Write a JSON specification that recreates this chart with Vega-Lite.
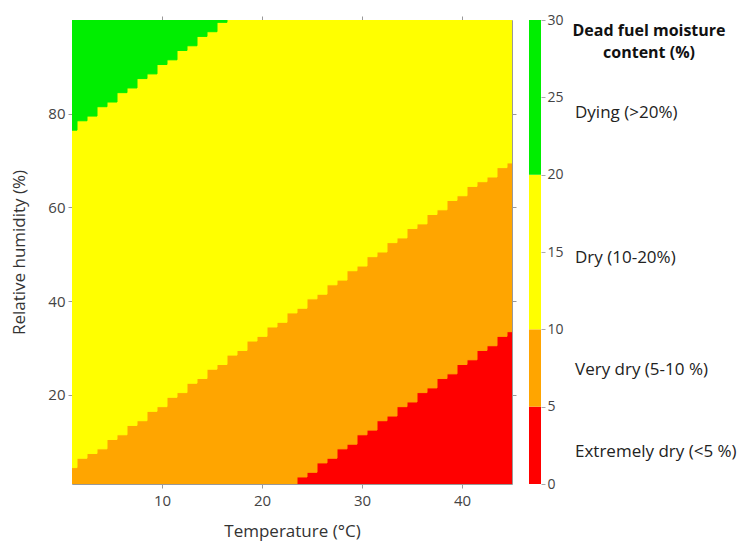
{
  "$schema": "https://vega.github.io/schema/vega-lite/v6.json",
  "padding": {"left": 10, "top": 13, "right": 2, "bottom": 2},
  "bounds": "flush",
  "spacing": 17,
  "datasets": {
    "cells": [
      {"t0":23.5,"t1":24.5,"lo":1,"hi":2.5,"c":"Extremely dry"},
      {"t0":24.5,"t1":25.5,"lo":1,"hi":3.5,"c":"Extremely dry"},
      {"t0":25.5,"t1":26.5,"lo":1,"hi":5.5,"c":"Extremely dry"},
      {"t0":26.5,"t1":27.5,"lo":1,"hi":6.5,"c":"Extremely dry"},
      {"t0":27.5,"t1":28.5,"lo":1,"hi":8.5,"c":"Extremely dry"},
      {"t0":28.5,"t1":29.5,"lo":1,"hi":9.5,"c":"Extremely dry"},
      {"t0":29.5,"t1":30.5,"lo":1,"hi":11.5,"c":"Extremely dry"},
      {"t0":30.5,"t1":31.5,"lo":1,"hi":12.5,"c":"Extremely dry"},
      {"t0":31.5,"t1":32.5,"lo":1,"hi":14.5,"c":"Extremely dry"},
      {"t0":32.5,"t1":33.5,"lo":1,"hi":15.5,"c":"Extremely dry"},
      {"t0":33.5,"t1":34.5,"lo":1,"hi":17.5,"c":"Extremely dry"},
      {"t0":34.5,"t1":35.5,"lo":1,"hi":18.5,"c":"Extremely dry"},
      {"t0":35.5,"t1":36.5,"lo":1,"hi":20.5,"c":"Extremely dry"},
      {"t0":36.5,"t1":37.5,"lo":1,"hi":21.5,"c":"Extremely dry"},
      {"t0":37.5,"t1":38.5,"lo":1,"hi":23.5,"c":"Extremely dry"},
      {"t0":38.5,"t1":39.5,"lo":1,"hi":24.5,"c":"Extremely dry"},
      {"t0":39.5,"t1":40.5,"lo":1,"hi":26.5,"c":"Extremely dry"},
      {"t0":40.5,"t1":41.5,"lo":1,"hi":27.5,"c":"Extremely dry"},
      {"t0":41.5,"t1":42.5,"lo":1,"hi":29.5,"c":"Extremely dry"},
      {"t0":42.5,"t1":43.5,"lo":1,"hi":30.5,"c":"Extremely dry"},
      {"t0":43.5,"t1":44.5,"lo":1,"hi":32.5,"c":"Extremely dry"},
      {"t0":44.5,"t1":45.5,"lo":1,"hi":33.5,"c":"Extremely dry"},

      {"t0":0.5,"t1":1.5,"lo":1,"hi":4.5,"c":"Very dry"},
      {"t0":1.5,"t1":2.5,"lo":1,"hi":6.5,"c":"Very dry"},
      {"t0":2.5,"t1":3.5,"lo":1,"hi":7.5,"c":"Very dry"},
      {"t0":3.5,"t1":4.5,"lo":1,"hi":8.5,"c":"Very dry"},
      {"t0":4.5,"t1":5.5,"lo":1,"hi":10.5,"c":"Very dry"},
      {"t0":5.5,"t1":6.5,"lo":1,"hi":11.5,"c":"Very dry"},
      {"t0":6.5,"t1":7.5,"lo":1,"hi":13.5,"c":"Very dry"},
      {"t0":7.5,"t1":8.5,"lo":1,"hi":14.5,"c":"Very dry"},
      {"t0":8.5,"t1":9.5,"lo":1,"hi":16.5,"c":"Very dry"},
      {"t0":9.5,"t1":10.5,"lo":1,"hi":17.5,"c":"Very dry"},
      {"t0":10.5,"t1":11.5,"lo":1,"hi":19.5,"c":"Very dry"},
      {"t0":11.5,"t1":12.5,"lo":1,"hi":20.5,"c":"Very dry"},
      {"t0":12.5,"t1":13.5,"lo":1,"hi":22.5,"c":"Very dry"},
      {"t0":13.5,"t1":14.5,"lo":1,"hi":23.5,"c":"Very dry"},
      {"t0":14.5,"t1":15.5,"lo":1,"hi":25.5,"c":"Very dry"},
      {"t0":15.5,"t1":16.5,"lo":1,"hi":26.5,"c":"Very dry"},
      {"t0":16.5,"t1":17.5,"lo":1,"hi":28.5,"c":"Very dry"},
      {"t0":17.5,"t1":18.5,"lo":1,"hi":29.5,"c":"Very dry"},
      {"t0":18.5,"t1":19.5,"lo":1,"hi":31.5,"c":"Very dry"},
      {"t0":19.5,"t1":20.5,"lo":1,"hi":32.5,"c":"Very dry"},
      {"t0":20.5,"t1":21.5,"lo":1,"hi":34.5,"c":"Very dry"},
      {"t0":21.5,"t1":22.5,"lo":1,"hi":35.5,"c":"Very dry"},
      {"t0":22.5,"t1":23.5,"lo":1,"hi":37.5,"c":"Very dry"},
      {"t0":23.5,"t1":24.5,"lo":2.5,"hi":38.5,"c":"Very dry"},
      {"t0":24.5,"t1":25.5,"lo":3.5,"hi":40.5,"c":"Very dry"},
      {"t0":25.5,"t1":26.5,"lo":5.5,"hi":41.5,"c":"Very dry"},
      {"t0":26.5,"t1":27.5,"lo":6.5,"hi":43.5,"c":"Very dry"},
      {"t0":27.5,"t1":28.5,"lo":8.5,"hi":44.5,"c":"Very dry"},
      {"t0":28.5,"t1":29.5,"lo":9.5,"hi":46.5,"c":"Very dry"},
      {"t0":29.5,"t1":30.5,"lo":11.5,"hi":47.5,"c":"Very dry"},
      {"t0":30.5,"t1":31.5,"lo":12.5,"hi":49.5,"c":"Very dry"},
      {"t0":31.5,"t1":32.5,"lo":14.5,"hi":50.5,"c":"Very dry"},
      {"t0":32.5,"t1":33.5,"lo":15.5,"hi":52.5,"c":"Very dry"},
      {"t0":33.5,"t1":34.5,"lo":17.5,"hi":53.5,"c":"Very dry"},
      {"t0":34.5,"t1":35.5,"lo":18.5,"hi":55.5,"c":"Very dry"},
      {"t0":35.5,"t1":36.5,"lo":20.5,"hi":56.5,"c":"Very dry"},
      {"t0":36.5,"t1":37.5,"lo":21.5,"hi":58.5,"c":"Very dry"},
      {"t0":37.5,"t1":38.5,"lo":23.5,"hi":59.5,"c":"Very dry"},
      {"t0":38.5,"t1":39.5,"lo":24.5,"hi":61.5,"c":"Very dry"},
      {"t0":39.5,"t1":40.5,"lo":26.5,"hi":62.5,"c":"Very dry"},
      {"t0":40.5,"t1":41.5,"lo":27.5,"hi":64.5,"c":"Very dry"},
      {"t0":41.5,"t1":42.5,"lo":29.5,"hi":65.5,"c":"Very dry"},
      {"t0":42.5,"t1":43.5,"lo":30.5,"hi":66.5,"c":"Very dry"},
      {"t0":43.5,"t1":44.5,"lo":32.5,"hi":68.5,"c":"Very dry"},
      {"t0":44.5,"t1":45.5,"lo":33.5,"hi":69.5,"c":"Very dry"},

      {"t0":0.5,"t1":1.5,"lo":4.5,"hi":76.5,"c":"Dry"},
      {"t0":1.5,"t1":2.5,"lo":6.5,"hi":78.5,"c":"Dry"},
      {"t0":2.5,"t1":3.5,"lo":7.5,"hi":79.5,"c":"Dry"},
      {"t0":3.5,"t1":4.5,"lo":8.5,"hi":81.5,"c":"Dry"},
      {"t0":4.5,"t1":5.5,"lo":10.5,"hi":82.5,"c":"Dry"},
      {"t0":5.5,"t1":6.5,"lo":11.5,"hi":84.5,"c":"Dry"},
      {"t0":6.5,"t1":7.5,"lo":13.5,"hi":85.5,"c":"Dry"},
      {"t0":7.5,"t1":8.5,"lo":14.5,"hi":87.5,"c":"Dry"},
      {"t0":8.5,"t1":9.5,"lo":16.5,"hi":88.5,"c":"Dry"},
      {"t0":9.5,"t1":10.5,"lo":17.5,"hi":90.5,"c":"Dry"},
      {"t0":10.5,"t1":11.5,"lo":19.5,"hi":91.5,"c":"Dry"},
      {"t0":11.5,"t1":12.5,"lo":20.5,"hi":93.5,"c":"Dry"},
      {"t0":12.5,"t1":13.5,"lo":22.5,"hi":94.5,"c":"Dry"},
      {"t0":13.5,"t1":14.5,"lo":23.5,"hi":96.5,"c":"Dry"},
      {"t0":14.5,"t1":15.5,"lo":25.5,"hi":97.5,"c":"Dry"},
      {"t0":15.5,"t1":16.5,"lo":26.5,"hi":99.5,"c":"Dry"},
      {"t0":16.5,"t1":17.5,"lo":28.5,"hi":100,"c":"Dry"},
      {"t0":17.5,"t1":18.5,"lo":29.5,"hi":100,"c":"Dry"},
      {"t0":18.5,"t1":19.5,"lo":31.5,"hi":100,"c":"Dry"},
      {"t0":19.5,"t1":20.5,"lo":32.5,"hi":100,"c":"Dry"},
      {"t0":20.5,"t1":21.5,"lo":34.5,"hi":100,"c":"Dry"},
      {"t0":21.5,"t1":22.5,"lo":35.5,"hi":100,"c":"Dry"},
      {"t0":22.5,"t1":23.5,"lo":37.5,"hi":100,"c":"Dry"},
      {"t0":23.5,"t1":24.5,"lo":38.5,"hi":100,"c":"Dry"},
      {"t0":24.5,"t1":25.5,"lo":40.5,"hi":100,"c":"Dry"},
      {"t0":25.5,"t1":26.5,"lo":41.5,"hi":100,"c":"Dry"},
      {"t0":26.5,"t1":27.5,"lo":43.5,"hi":100,"c":"Dry"},
      {"t0":27.5,"t1":28.5,"lo":44.5,"hi":100,"c":"Dry"},
      {"t0":28.5,"t1":29.5,"lo":46.5,"hi":100,"c":"Dry"},
      {"t0":29.5,"t1":30.5,"lo":47.5,"hi":100,"c":"Dry"},
      {"t0":30.5,"t1":31.5,"lo":49.5,"hi":100,"c":"Dry"},
      {"t0":31.5,"t1":32.5,"lo":50.5,"hi":100,"c":"Dry"},
      {"t0":32.5,"t1":33.5,"lo":52.5,"hi":100,"c":"Dry"},
      {"t0":33.5,"t1":34.5,"lo":53.5,"hi":100,"c":"Dry"},
      {"t0":34.5,"t1":35.5,"lo":55.5,"hi":100,"c":"Dry"},
      {"t0":35.5,"t1":36.5,"lo":56.5,"hi":100,"c":"Dry"},
      {"t0":36.5,"t1":37.5,"lo":58.5,"hi":100,"c":"Dry"},
      {"t0":37.5,"t1":38.5,"lo":59.5,"hi":100,"c":"Dry"},
      {"t0":38.5,"t1":39.5,"lo":61.5,"hi":100,"c":"Dry"},
      {"t0":39.5,"t1":40.5,"lo":62.5,"hi":100,"c":"Dry"},
      {"t0":40.5,"t1":41.5,"lo":64.5,"hi":100,"c":"Dry"},
      {"t0":41.5,"t1":42.5,"lo":65.5,"hi":100,"c":"Dry"},
      {"t0":42.5,"t1":43.5,"lo":66.5,"hi":100,"c":"Dry"},
      {"t0":43.5,"t1":44.5,"lo":68.5,"hi":100,"c":"Dry"},
      {"t0":44.5,"t1":45.5,"lo":69.5,"hi":100,"c":"Dry"},

      {"t0":0.5,"t1":1.5,"lo":76.5,"hi":100,"c":"Dying"},
      {"t0":1.5,"t1":2.5,"lo":78.5,"hi":100,"c":"Dying"},
      {"t0":2.5,"t1":3.5,"lo":79.5,"hi":100,"c":"Dying"},
      {"t0":3.5,"t1":4.5,"lo":81.5,"hi":100,"c":"Dying"},
      {"t0":4.5,"t1":5.5,"lo":82.5,"hi":100,"c":"Dying"},
      {"t0":5.5,"t1":6.5,"lo":84.5,"hi":100,"c":"Dying"},
      {"t0":6.5,"t1":7.5,"lo":85.5,"hi":100,"c":"Dying"},
      {"t0":7.5,"t1":8.5,"lo":87.5,"hi":100,"c":"Dying"},
      {"t0":8.5,"t1":9.5,"lo":88.5,"hi":100,"c":"Dying"},
      {"t0":9.5,"t1":10.5,"lo":90.5,"hi":100,"c":"Dying"},
      {"t0":10.5,"t1":11.5,"lo":91.5,"hi":100,"c":"Dying"},
      {"t0":11.5,"t1":12.5,"lo":93.5,"hi":100,"c":"Dying"},
      {"t0":12.5,"t1":13.5,"lo":94.5,"hi":100,"c":"Dying"},
      {"t0":13.5,"t1":14.5,"lo":96.5,"hi":100,"c":"Dying"},
      {"t0":14.5,"t1":15.5,"lo":97.5,"hi":100,"c":"Dying"},
      {"t0":15.5,"t1":16.5,"lo":99.5,"hi":100,"c":"Dying"}
    ],
    "key": [
      {"lo":0,"hi":5,"c":"Extremely dry"},
      {"lo":5,"hi":10,"c":"Very dry"},
      {"lo":10,"hi":20,"c":"Dry"},
      {"lo":20,"hi":30,"c":"Dying"}
    ],
    "labels": [
      {"label":"Dying (>20%)","v":24.0},
      {"label":"Dry (10-20%)","v":14.6},
      {"label":"Very dry (5-10 %)","v":7.4},
      {"label":"Extremely dry (<5 %)","v":2.1}
    ],
    "heading": [
      {"label":"Dead fuel moisture","v":29.3},
      {"label":"content (%)","v":27.85}
    ]
  },
  "hconcat": [
    {
      "width": 440,
      "height": 464,
      "data": {"name": "cells"},
      "resolve": {"axis": {"x": "independent", "y": "independent"}},
      "layer": [
        {
          "mark": {"type": "rect", "clip": true, "strokeWidth": 1},
          "encoding": {
            "x": {"field": "t0", "type": "quantitative",
                  "scale": {"domain": [1, 45], "nice": false, "zero": false},
                  "axis": {"orient": "bottom", "title": "Temperature (°C)", "values": [10, 20, 30, 40], "titlePadding": 15, "labelPadding": 5}},
            "x2": {"field": "t1"},
            "y": {"field": "lo", "type": "quantitative",
                  "scale": {"domain": [1, 100], "nice": false, "zero": false},
                  "axis": {"orient": "left", "title": "Relative humidity (%)", "values": [20, 40, 60, 80], "titlePadding": 19}},
            "y2": {"field": "hi"},
            "color": {"field": "c", "type": "nominal",
                      "scale": {"domain": ["Extremely dry", "Very dry", "Dry", "Dying"], "range": ["#ff0000", "#ffa500", "#ffff00", "#00ee00"]},
                      "legend": null},
            "stroke": {"field": "c", "type": "nominal",
                      "scale": {"domain": ["Extremely dry", "Very dry", "Dry", "Dying"], "range": ["#ff0000", "#ffa500", "#ffff00", "#00ee00"]},
                      "legend": null}
          }
        },
        {
          "mark": {"type": "rect", "opacity": 0, "clip": true},
          "encoding": {
            "x": {"field": "t0", "type": "quantitative",
                  "axis": {"orient": "top", "labels": false, "title": null, "values": [10, 20, 30, 40]}},
            "x2": {"field": "t1"},
            "y": {"field": "lo", "type": "quantitative",
                  "axis": {"orient": "right", "labels": false, "title": null, "values": [20, 40, 60, 80]}},
            "y2": {"field": "hi"}
          }
        }
      ]
    },
    {
      "bounds": "flush",
      "spacing": 34,
      "hconcat": [
        {
          "width": 12,
          "height": 464,
          "data": {"name": "key"},
          "mark": {"type": "rect"},
          "encoding": {
            "y": {"field": "lo", "type": "quantitative",
                  "scale": {"domain": [0, 30], "nice": false, "zero": false},
                  "axis": {"orient": "right", "title": null, "values": [0, 5, 10, 15, 20, 25, 30], "domain": false, "labelFontSize": 14, "labelPadding": 2, "tickColor": "#aaa"}},
            "y2": {"field": "hi"},
            "color": {"field": "c", "type": "nominal", "legend": null}
          }
        },
        {
          "width": 148,
          "height": 464,
          "layer": [
            {
              "data": {"name": "labels"},
              "mark": {"type": "text", "align": "left", "baseline": "middle", "fontSize": 17, "color": "#222", "font": "Open Sans"},
              "encoding": {
                "x": {"datum": 0, "type": "quantitative", "scale": {"domain": [0, 1]}, "axis": null},
                "y": {"field": "v", "type": "quantitative", "scale": {"domain": [0, 30], "nice": false, "zero": false}, "axis": null},
                "text": {"field": "label"}
              }
            },
            {
              "data": {"name": "heading"},
              "mark": {"type": "text", "align": "center", "baseline": "middle", "fontSize": 16, "fontWeight": "bold", "color": "#111", "font": "Open Sans"},
              "encoding": {
                "x": {"datum": 0.5, "type": "quantitative", "axis": null},
                "y": {"field": "v", "type": "quantitative", "axis": null},
                "text": {"field": "label"}
              }
            }
          ]
        }
      ]
    }
  ],
  "config": {
    "view": {"stroke": null},
    "font": "Open Sans",
    "axis": {
      "grid": false,
      "tickSize": 4,
      "tickColor": "#999",
      "domainColor": "#999",
      "labelFont": "Open Sans",
      "labelFontSize": 15,
      "labelColor": "#444",
      "labelPadding": 3,
      "titleFont": "Open Sans",
      "titleFontSize": 17,
      "titleFontWeight": "normal",
      "titleColor": "#333",
      "zindex": 1
    }
  }
}
